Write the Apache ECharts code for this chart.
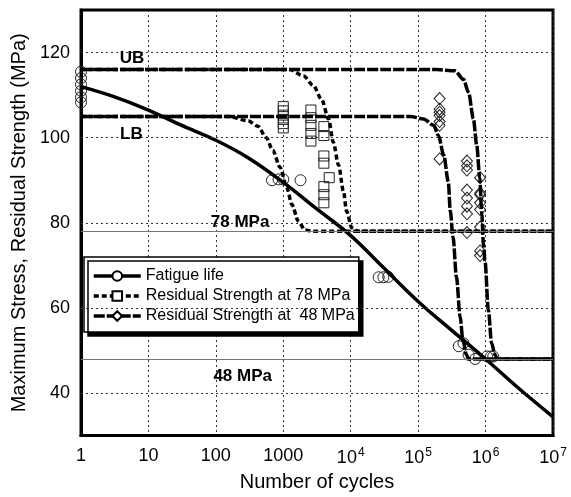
<!DOCTYPE html>
<html>
<head>
<meta charset="utf-8">
<script src="https://cdn.jsdelivr.net/npm/echarts@6/dist/echarts.min.js"></script>
<style>
  html, body { margin: 0; padding: 0; background: #fff; }
  #chart { width: 571px; height: 497px; }
</style>
</head>
<body>
<div id="chart"></div>
<script>
// fatigue life curve (S-N)
const fatigueN = [1, 3, 10, 30, 100, 300, 1000, 3000, 1e4, 3e4, 1e5, 3e5, 1e6, 3e6, 1e7]
const fatigueS = [112, 109.7, 106.5, 103, 99.4, 95.3, 89.5, 83.5, 77, 69.6, 61.5, 55, 48, 41.3, 34.4]

// residual strength curves, 78 MPa (lower / upper bound)
const rs78LbN = [1, 150, 300, 420, 560, 700, 900, 1130, 1340, 1670, 2100, 2700, 1e7]
const rs78LbS = [105, 105, 104, 102.7, 100, 97, 93, 88.2, 84.3, 80.4, 78.3, 78, 78]
const rs78UbN = [1, 1250, 2000, 2800, 3700, 4700, 5500, 6600, 7800, 8700, 10400, 13000, 1e7]
const rs78UbS = [116, 116, 114.5, 112.2, 109, 104.4, 99, 93.6, 87.4, 82.7, 78.8, 78, 78]

// residual strength curves, 48 MPa (lower / upper bound)
const rs48LbN = [1, 7.6e4, 1.2e5, 1.7e5, 2e5, 2.4e5, 2.8e5, 3e5, 3.3e5, 3.7e5, 4.2e5, 4.6e5, 5.2e5, 5.6e5, 1e7]
const rs48LbS = [105, 105, 104.4, 102.9, 100.5, 95.9, 89.7, 82.7, 76.5, 67.2, 57.9, 52.5, 49, 48, 48]
const rs48UbN = [1, 1.9e5, 3.5e5, 4.7e5, 5.6e5, 6.6e5, 7.4e5, 8.2e5, 8.8e5, 9.3e5, 9.8e5, 1.1e6, 1.23e6, 1.38e6, 1.5e6, 1e7]
const rs48UbS = [116, 116, 115.7, 113.7, 110.6, 104.4, 98.2, 90.5, 81.9, 75, 71.1, 59.5, 51.7, 49, 48, 48]

// test points
const circleN = [1, 1, 1, 1, 1, 1, 680, 850, 1000, 1800, 26000, 30500, 36000, 4e5, 4.7e5, 5.6e5, 7e5, 1.05e6, 1.2e6, 1.3e6]
const circleS = [115.5, 114, 112.5, 111, 109.5, 108.3, 90, 90.2, 90.2, 90, 67.2, 67.2, 67.3, 51, 51.7, 49, 48, 48.6, 48.6, 48.6]
const squareN = [1000, 1000, 1000, 1000, 1000, 1000, 2570, 2570, 2570, 2570, 2570, 4000, 4000, 4000, 4000, 4000, 4000, 4000, 4800]
const squareS = [107.3, 106.3, 105.3, 104.3, 103.3, 102.3, 106.5, 104.7, 102.9, 101, 99.2, 102.6, 100.5, 95.7, 94, 88.5, 86.6, 84.7, 90.6]
const diamondN = [2.08e5, 2.08e5, 2.08e5, 2.08e5, 2.08e5, 2.08e5, 2.08e5, 5.3e5, 5.3e5, 5.3e5, 5.3e5, 5.3e5, 5.3e5, 5.3e5, 5.3e5, 8.3e5, 8.3e5, 8.3e5, 8.3e5, 8.3e5, 8.3e5, 8.3e5, 8.3e5]
const diamondS = [109.2, 106.7, 106, 105.2, 103.8, 102.9, 95, 94.5, 93.4, 92.4, 87.7, 85.8, 83.9, 82.1, 77.7, 90.6, 87, 86.6, 84.7, 83.1, 79, 73.4, 72.3]

// annotations
const noteText = ['UB', 'LB', '78 MPa', '48 MPa']
const noteN = [5.7, 5.6, 229, 250]
const noteS = [118.6, 100.8, 80.2, 43.9]

const yTicks = [40, 60, 80, 100, 120]
const refLevels = [78, 48]

const FONT = 'Liberation Sans, Arial, sans-serif'
const pairs = (xs, ys) => xs.map((x, i) => [x, ys[i]])

const dotted = { color: '#333', width: 1, type: [2, 3] }
const markerStyle = { color: 'rgba(0,0,0,0)', borderColor: '#222', borderWidth: 1, opacity: 1 }
const dash78 = [5, 3]
const dash48 = [11, 2]

const chart = echarts.init(document.getElementById('chart'))

const option = {
  animation: false,
  textStyle: { fontFamily: FONT },
  grid: {
    left: 81, right: 18, top: 10, bottom: 56,
    show: true, borderColor: '#000', borderWidth: 3
  },
  legend: {
    data: [
      { name: 'Fatigue life', lineStyle: { width: 3.5, type: 'solid' } },
      { name: 'Residual Strength at 78 MPa', lineStyle: { width: 3.5, type: dash78 } },
      { name: 'Residual Strength at  48 MPa', lineStyle: { width: 3.5, type: dash48 } }
    ],
    orient: 'vertical',
    left: 84,
    top: 257,
    padding: [11, 4, 8, 8],
    itemWidth: 47,
    itemHeight: 12,
    itemGap: 4,
    backgroundColor: '#fff',
    borderColor: '#000',
    borderWidth: 1.5,
    shadowColor: '#000',
    shadowBlur: 0,
    shadowOffsetX: 4,
    shadowOffsetY: 4,
    textStyle: { fontSize: 16, color: '#000', fontFamily: FONT }
  },
  xAxis: {
    type: 'log',
    logBase: 10,
    min: 1,
    max: 1e7,
    name: 'Number of cycles',
    nameLocation: 'middle',
    nameGap: 33,
    nameTextStyle: { fontSize: 20, color: '#000', fontFamily: FONT },
    axisLine: { lineStyle: { color: '#000', width: 3 } },
    axisTick: { show: false },
    minorTick: { show: false },
    splitLine: { show: true, lineStyle: dotted },
    axisLabel: {
      margin: 11,
      color: '#000',
      fontSize: 18,
      fontFamily: FONT,
      formatter: (v) => {
        const e = Math.round(Math.log10(v))
        return e <= 3 ? String(Math.round(v)) : '10{sup|' + e + '}'
      },
      rich: {
        sup: { fontSize: 12, padding: [0, 0, 11, 1], fontFamily: FONT, color: '#000' }
      }
    }
  },
  yAxis: {
    type: 'value',
    min: 30,
    max: 130,
    interval: 10,
    name: 'Maximum Stress, Residual Strength (MPa)',
    nameLocation: 'middle',
    nameGap: 50,
    nameTextStyle: { fontSize: 20, color: '#000', fontFamily: FONT },
    axisLine: { show: true, lineStyle: { color: '#000', width: 3 } },
    axisTick: { show: false },
    splitLine: { show: false },
    axisLabel: {
      margin: 11,
      color: '#000',
      fontSize: 18,
      fontFamily: FONT,
      formatter: (v) => (yTicks.includes(v) ? String(v) : '')
    }
  },
  series: [
    {
      // grid lines + reference levels
      name: 'ref',
      type: 'line',
      data: [],
      silent: true,
      markLine: {
        silent: true,
        symbol: 'none',
        label: { show: false },
        animation: false,
        data: [
          ...yTicks.map(v => ({ yAxis: v, lineStyle: dotted })),
          ...refLevels.map(v => ({ yAxis: v, lineStyle: { color: '#777', width: 1.2, type: 'solid' } }))
        ]
      }
    },
    {
      name: 'Fatigue life data',
      type: 'scatter',
      symbol: 'circle',
      symbolSize: 11,
      itemStyle: markerStyle,
      data: pairs(circleN, circleS),
      z: 3
    },
    {
      name: 'Residual 78 data',
      type: 'scatter',
      symbol: 'rect',
      symbolSize: 10,
      itemStyle: markerStyle,
      data: pairs(squareN, squareS),
      z: 3
    },
    {
      name: 'Residual 48 data',
      type: 'scatter',
      symbol: 'diamond',
      symbolSize: [11, 12],
      itemStyle: markerStyle,
      data: pairs(diamondN, diamondS),
      z: 3
    },
    {
      name: 'Fatigue life',
      type: 'line',
      symbol: 'emptyCircle',
      showSymbol: false,
      smooth: 0.4,
      itemStyle: { color: '#000' },
      lineStyle: { color: '#000', width: 3.5 },
      data: pairs(fatigueN, fatigueS),
      z: 4
    },
    {
      name: 'Residual Strength at 78 MPa',
      type: 'line',
      symbol: 'emptyRect',
      showSymbol: false,
      smooth: 0.3,
      smoothMonotone: 'x',
      itemStyle: { color: '#000' },
      lineStyle: { color: '#000', width: 3.5, type: dash78 },
      data: pairs(rs78LbN, rs78LbS),
      z: 4
    },
    {
      name: 'Residual Strength at 78 MPa',
      type: 'line',
      symbol: 'emptyRect',
      showSymbol: false,
      smooth: 0.3,
      smoothMonotone: 'x',
      itemStyle: { color: '#000' },
      lineStyle: { color: '#000', width: 3.5, type: dash78 },
      data: pairs(rs78UbN, rs78UbS),
      z: 4
    },
    {
      name: 'Residual Strength at  48 MPa',
      type: 'line',
      symbol: 'emptyDiamond',
      showSymbol: false,
      smooth: 0.3,
      smoothMonotone: 'x',
      itemStyle: { color: '#000' },
      lineStyle: { color: '#000', width: 3.5, type: dash48 },
      data: pairs(rs48LbN, rs48LbS),
      z: 4
    },
    {
      name: 'Residual Strength at  48 MPa',
      type: 'line',
      symbol: 'emptyDiamond',
      showSymbol: false,
      smooth: 0.3,
      smoothMonotone: 'x',
      itemStyle: { color: '#000' },
      lineStyle: { color: '#000', width: 3.5, type: dash48 },
      data: pairs(rs48UbN, rs48UbS),
      z: 4
    },
    {
      name: 'notes',
      type: 'scatter',
      symbolSize: 0,
      silent: true,
      itemStyle: { opacity: 1, color: '#000' },
      data: noteText.map((t, i) => ({ name: t, value: [noteN[i], noteS[i]] })),
      label: {
        show: true,
        position: 'inside',
        formatter: (p) => p.name,
        fontSize: 17,
        fontWeight: 'bold',
        color: '#000',
        opacity: 1,
        fontFamily: FONT
      },
      z: 5
    }
  ]
}

chart.setOption(option)
</script>
</body>
</html>
